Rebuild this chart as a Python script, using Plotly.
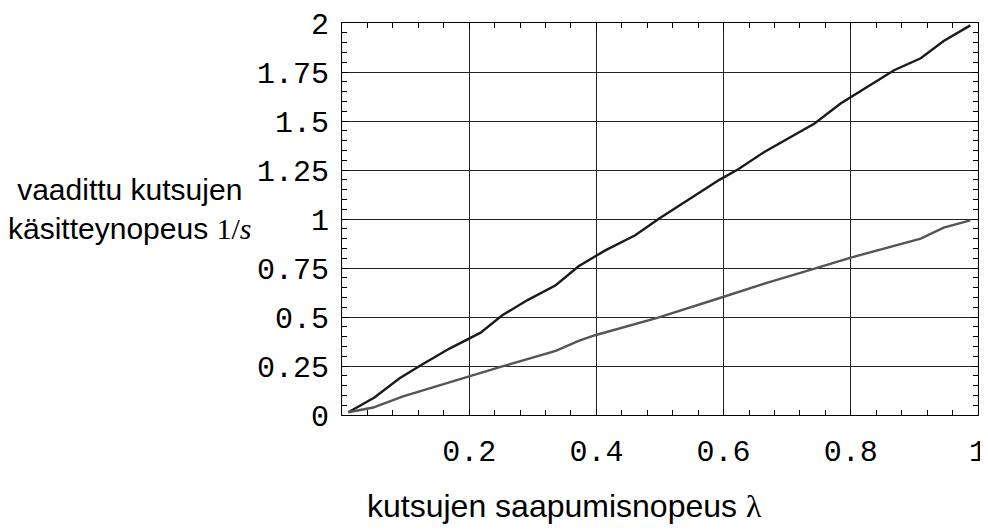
import plotly.graph_objects as go

# black curve (upper)
lam_a = [0.01, 0.051, 0.09, 0.124, 0.169, 0.218, 0.252, 0.291, 0.336, 0.372, 0.414,
         0.461, 0.5, 0.594, 0.623, 0.664, 0.743, 0.784, 0.868, 0.91, 0.946, 0.988]
rate_a = [0.014, 0.089, 0.186, 0.254, 0.339, 0.42, 0.509, 0.585, 0.662, 0.759, 0.84,
          0.917, 1.005, 1.201, 1.254, 1.342, 1.487, 1.589, 1.759, 1.82, 1.908, 1.988]
# gray curve (lower)
lam_b = [0.01, 0.049, 0.096, 0.169, 0.252, 0.336, 0.372, 0.398, 0.456, 0.497,
         0.599, 0.664, 0.743, 0.8, 0.91, 0.946, 0.988]
rate_b = [0.014, 0.038, 0.095, 0.168, 0.248, 0.327, 0.378, 0.407, 0.458, 0.497,
          0.602, 0.67, 0.747, 0.803, 0.9, 0.956, 0.993]

x_ticks = [0.2, 0.4, 0.6, 0.8, 1]
x_labels = ["0.2", "0.4", "0.6", "0.8", "1"]
y_ticks = [0, 0.25, 0.5, 0.75, 1, 1.25, 1.5, 1.75, 2]
y_labels = ["0", "0.25", "0.5", "0.75", "1", "1.25", "1.5", "1.75", "2"]

fig = go.Figure()
fig.add_trace(go.Scatter(x=lam_a, y=rate_a, mode="lines",
                         line=dict(color="#1a1a1a", width=2.4), showlegend=False))
fig.add_trace(go.Scatter(x=lam_b, y=rate_b, mode="lines",
                         line=dict(color="#555555", width=2.4), showlegend=False))
# invisible trace to carry the mirrored (top/right) tick axes
fig.add_trace(go.Scatter(x=lam_a, y=rate_a, mode="lines", xaxis="x2", yaxis="y2",
                         line=dict(color="rgba(0,0,0,0)", width=0), showlegend=False,
                         hoverinfo="skip"))

tickfont = dict(family="Liberation Mono", size=30, color="black")
fig.update_layout(
    xaxis=dict(range=[0, 1], tickvals=x_ticks, ticktext=x_labels, tickfont=tickfont,
               showgrid=True, gridcolor="#222222", gridwidth=1, zeroline=False,
               showline=True, linecolor="black", linewidth=1, mirror=True,
               ticks="inside", ticklen=6, tickcolor="black", ticklabelstandoff=9,
               automargin=False,
               minor=dict(dtick=0.04, tick0=0, ticks="inside", ticklen=5,
                          tickcolor="black", showgrid=False)),
    yaxis=dict(range=[0, 2], tickvals=y_ticks, ticktext=y_labels, tickfont=tickfont,
               showgrid=True, gridcolor="#222222", gridwidth=1, zeroline=False,
               showline=True, linecolor="black", linewidth=1, mirror=True,
               ticks="inside", ticklen=6, tickcolor="black", ticklabelstandoff=6,
               automargin=False,
               minor=dict(dtick=0.05, tick0=0, ticks="inside", ticklen=5,
                          tickcolor="black", showgrid=False)),
    xaxis2=dict(range=[0, 1], overlaying="x", side="top", anchor="y",
                tickvals=x_ticks, showticklabels=False, showgrid=False, zeroline=False,
                ticks="inside", ticklen=6, tickcolor="black", automargin=False,
                minor=dict(dtick=0.04, tick0=0, ticks="inside", ticklen=5,
                           tickcolor="black", showgrid=False)),
    yaxis2=dict(range=[0, 2], overlaying="y", side="right", anchor="x",
                tickvals=y_ticks, showticklabels=False, showgrid=False, zeroline=False,
                ticks="inside", ticklen=6, tickcolor="black", automargin=False,
                minor=dict(dtick=0.05, tick0=0, ticks="inside", ticklen=5,
                           tickcolor="black", showgrid=False)),
)

ylabfont = dict(family="Liberation Sans", size=30, color="black")
xlabfont = dict(family="Liberation Sans", size=32, color="black")
fig.add_annotation(xref="paper", yref="paper", x=-0.333, y=0.525, xanchor="center",
                   yanchor="middle", showarrow=False, font=ylabfont, align="center",
                   text="vaadittu kutsujen<br>käsitteynopeus <span style='font-family:Liberation Serif'>1/<i>s</i></span>")
fig.add_annotation(xref="paper", yref="paper", x=0.35, y=-0.233, xanchor="center",
                   yanchor="middle", showarrow=False, font=xlabfont,
                   text="kutsujen saapumisnopeus <span style='font-family:Liberation Serif'>λ</span>")

fig.update_layout(width=980, height=521, plot_bgcolor="white", paper_bgcolor="white",
                  margin=dict(l=334, r=10, t=15, b=114))
fig.write_html("out.html")
